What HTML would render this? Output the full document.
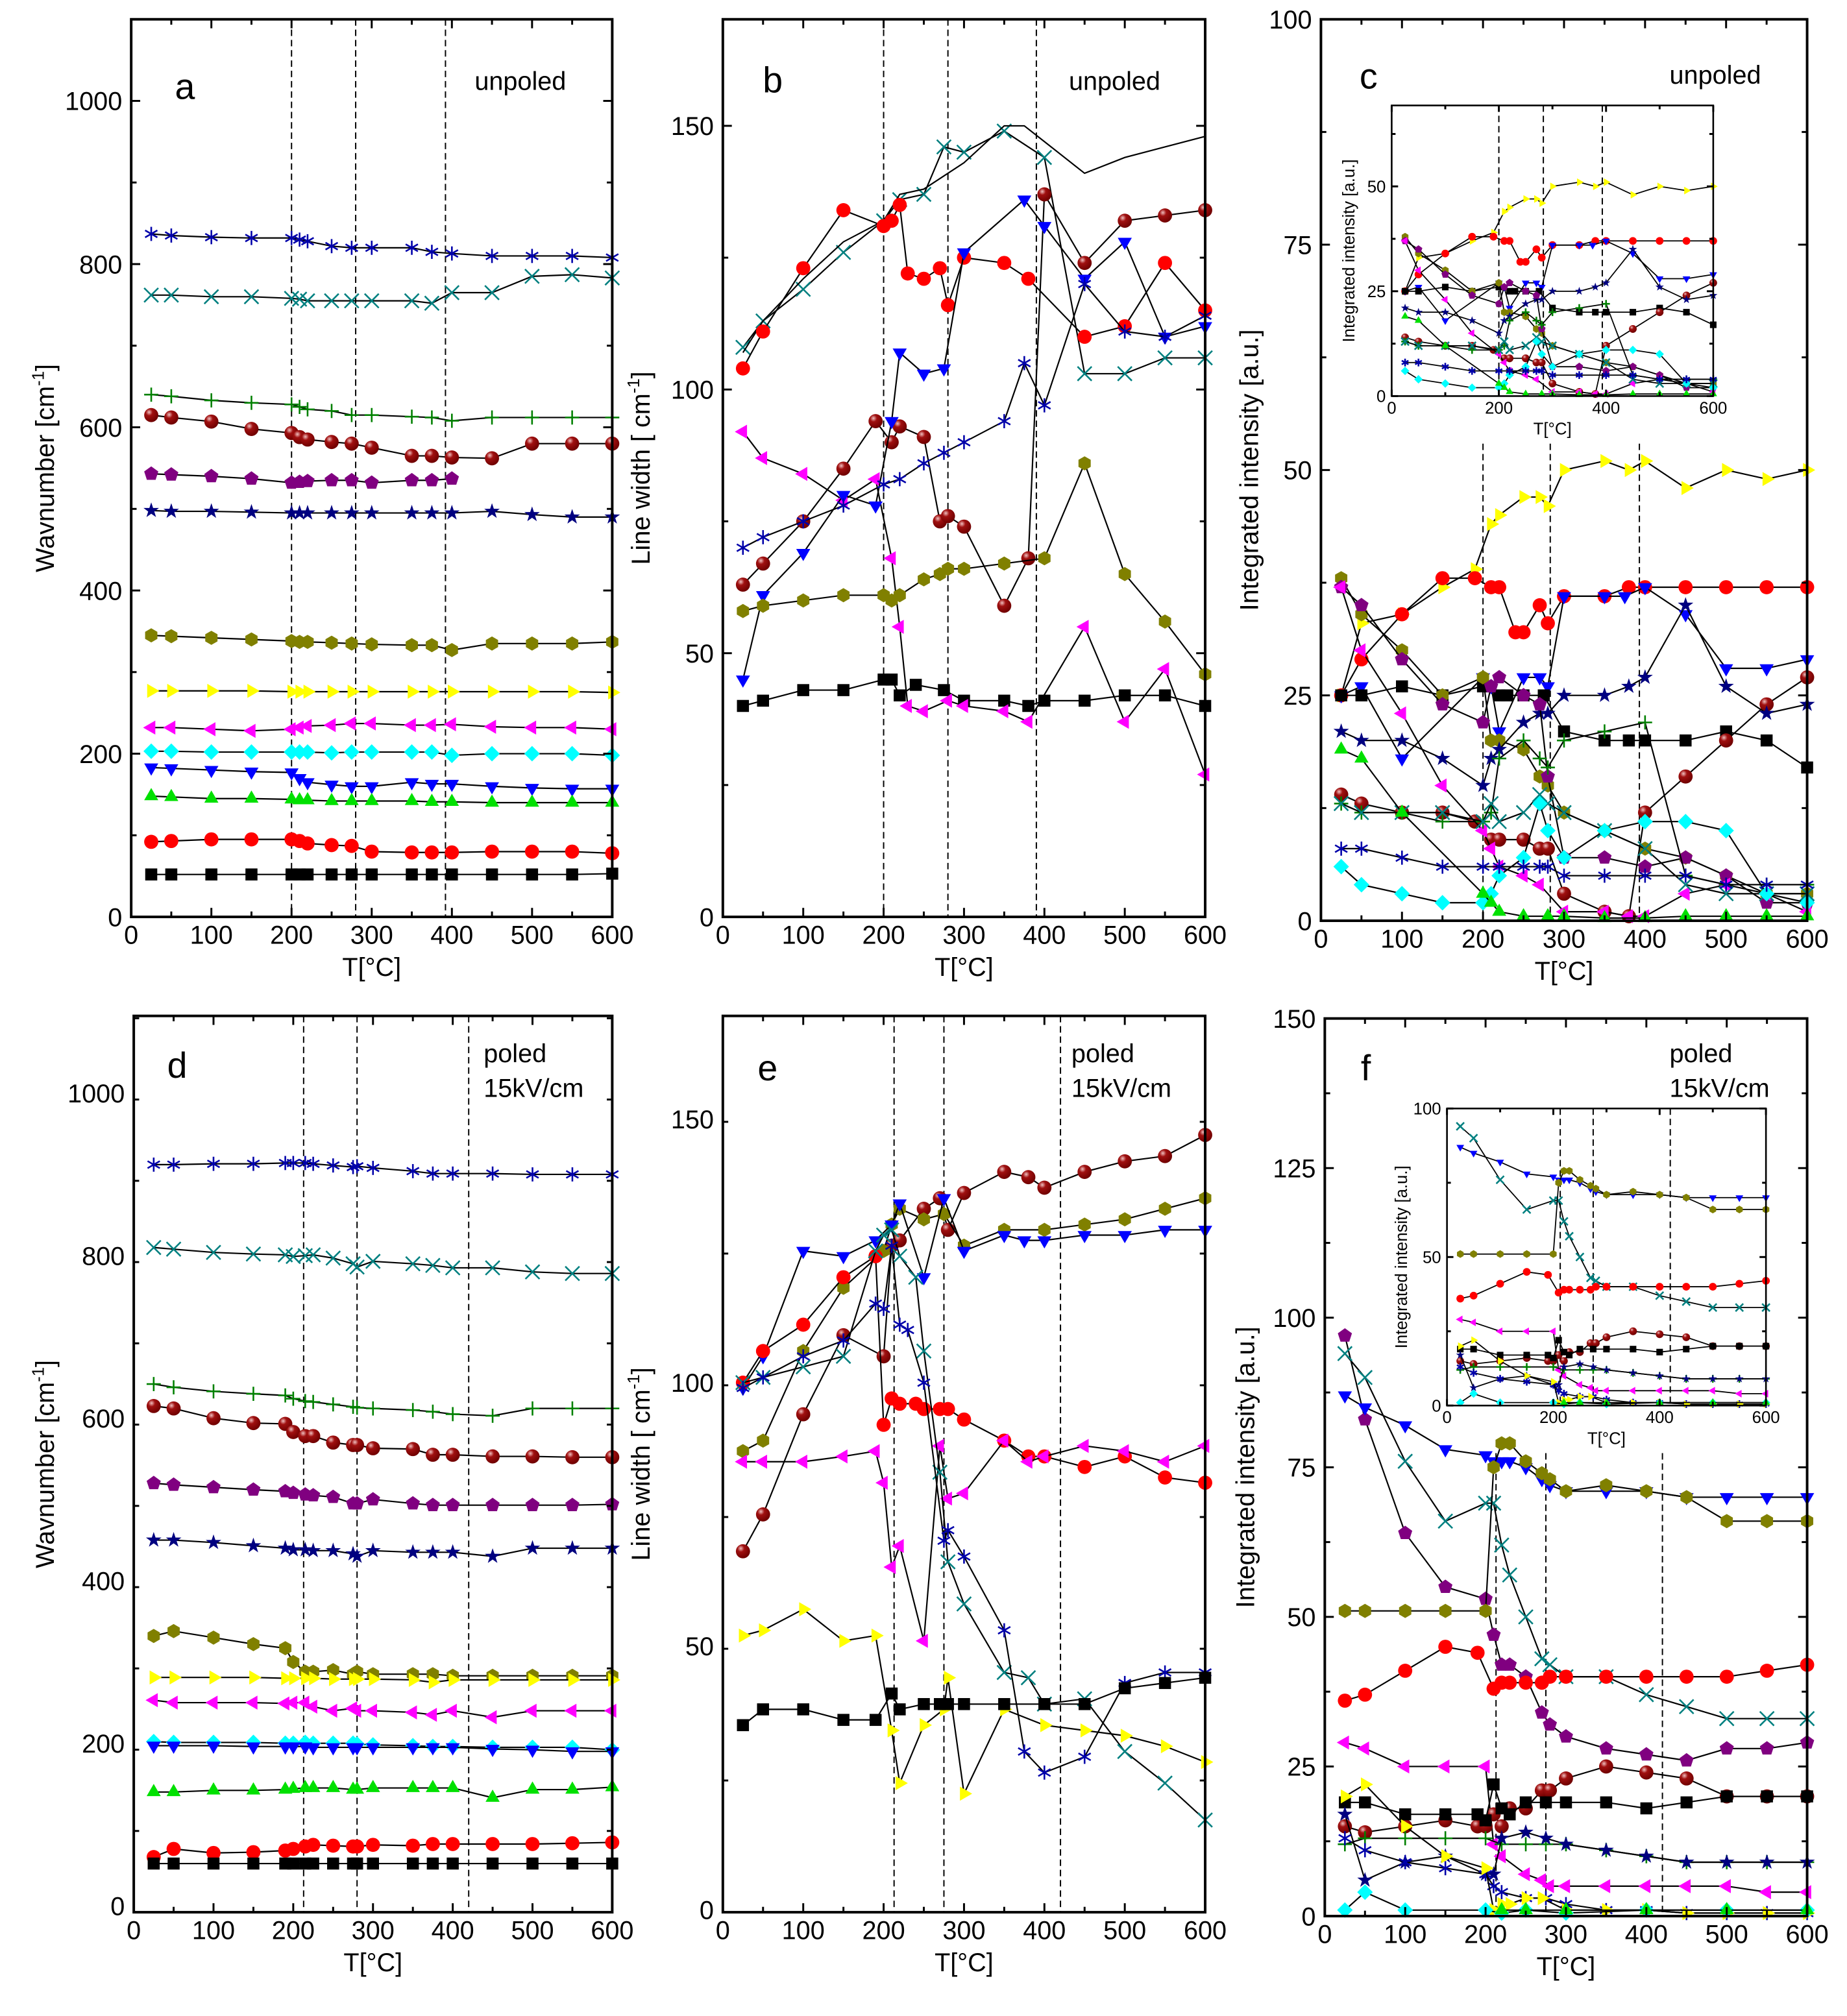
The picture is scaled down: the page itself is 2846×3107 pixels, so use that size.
<!DOCTYPE html>
<html><head><meta charset="utf-8">
<style>
html,body{margin:0;padding:0;background:#fff;}
svg{display:block;}
text{font-family:"Liberation Sans",Arial,sans-serif;fill:#000;}
</style></head>
<body>
<svg id="fig" xmlns="http://www.w3.org/2000/svg" width="2846" height="3107" viewBox="0 0 1436 1567.7" preserveAspectRatio="none">
<defs>
<radialGradient id="sph" cx="0.35" cy="0.3" r="0.7"><stop offset="0" stop-color="#f0c0c0"/><stop offset="0.35" stop-color="#a01010"/><stop offset="1" stop-color="#700000"/></radialGradient>
</defs>
</svg>
<script>
// ---------- DATA ----------
const aT=[25,50,100,150,200,210,220,250,275,300,350,375,400,450,500,550,600];
const aAst=[837,835,833,832,832,830,828,822,820,820,820,815,813,810,810,810,808];
const aX=[762,762,760,760,758,757,755,755,755,755,755,752,765,765,785,787,783];
const aPlus=[640,638,633,630,628,625,622,620,615,615,613,612,608,612,612,612,612];
const aSph=[615,612,607,598,593,588,585,582,580,575,565,565,563,562,580,580,580];
const aPent=[543,542,540,537,532,533,534,535,535,532,535,535,537,null,null,null,null];
const aStar=[498,497,497,496,495,495,495,495,495,495,495,495,495,497,493,490,490];
const aHex=[345,344,342,340,338,337,337,336,335,334,333,333,327,335,335,335,337];
const aRight=[277,277,277,277,276,276,276,276,276,276,276,276,276,276,276,276,275];
const aLeft=[232,232,230,228,230,232,234,235,237,237,235,235,236,233,232,232,230];
const aDia=[203,203,202,202,202,202,202,201,202,202,202,202,198,200,200,200,198];
const aDown=[183,182,180,178,177,170,165,162,160,160,165,163,163,160,158,157,157];
const aUp=[148,147,145,145,144,143,143,142,142,142,142,141,141,140,140,140,140];
const aCirc=[92,93,95,95,95,93,90,88,87,80,79,79,79,80,80,80,78];
const aSq=[52,52,52,52,52,52,52,52,52,52,52,52,52,52,52,52,53];

const bSqT=[25,50,100,150,200,210,220,240,275,300,350,380,400,450,500,550,600];
const bSq=[40,41,43,43,45,45,42,44,43,41,41,40,41,41,42,42,40];
const bLeftT=[25,50,100,150,190,210,220,230,250,280,300,350,380,450,500,550,600];
const bLeft=[92,87,84,79,83,68,55,40,39,41,40,39,37,55,37,47,27];
const bXT=[25,50,100,150,200,220,250,275,300,350,400,450,500,550,600];
const bX=[108,113,119,126,132,136,137,146,145,149,144,103,103,106,106];
const bLineT=[25,50,100,150,200,220,250,300,350,375,400,450,500,600];
const bLine=[107,113,121,128,132,137,138,143,150,150,147,141,144,148];
const bCircT=[25,50,100,150,200,210,220,230,250,270,280,300,350,380,450,500,550,600];
const bCirc=[104,111,123,134,131,132,135,122,121,123,116,125,124,121,110,112,124,115];
const bSphT=[25,50,100,150,190,210,220,250,270,280,300,350,380,400,450,500,550,600];
const bSph=[63,67,75,85,94,90,93,91,75,76,74,59,68,137,124,132,133,134];
const bDownT=[25,50,100,150,190,210,220,250,275,300,375,400,450,500,550,600];
const bDown=[45,61,69,80,78,94,107,103,104,126,136,131,121,128,110,112];
const bAstT=[25,50,100,150,200,220,250,275,300,350,375,400,450,500,550,600];
const bAst=[70,72,75,78,82,83,86,88,90,94,105,97,120,111,110,114];
const bHexT=[25,50,100,150,200,210,220,250,270,280,300,350,400,450,500,550,600];
const bHex=[58,59,60,61,61,60,61,64,65,66,66,67,68,86,65,56,46];

const cRightT=[25,50,100,150,190,210,220,250,270,280,300,350,380,400,450,500,550,600];
const cRight=[25,33,34,37,39,44,45,47,47,46,50,51,50,51,48,50,49,50];
const cCircT=[25,50,100,150,190,210,220,240,250,270,280,300,350,380,400,450,500,550,600];
const cCirc=[25,29,34,38,38,37,37,32,32,35,33,36,36,37,37,37,37,37,37];
const cDownT=[25,50,100,200,210,220,250,270,280,300,350,375,400,450,500,550,600];
const cDown=[25,26,18,27,26,21,27,27,26,36,36,36,37,34,28,28,29];
const cSqT=[25,50,100,150,200,220,230,250,275,300,350,380,400,450,500,550,600];
const cSq=[25,25,26,25,26,25,25,25,25,21,20,20,20,20,21,20,17];
const cHexT=[25,50,100,150,200,210,220,250,270,280,300,350,400,450,500,550,600];
const cHex=[38,34,30,25,27,20,20,19,16,15,12,10,8,7,5,3,3];
const cSphT=[25,50,100,150,190,210,220,250,270,280,300,350,380,400,450,500,550,600];
const cSph=[14,13,12,12,11,9,9,9,8,8,3,1,0.5,12,16,20,24,27];
const cStarT=[25,50,100,150,200,210,220,250,270,280,300,350,380,400,450,500,550,600];
const cStar=[21,20,20,18,15,18,19,22,23,23,25,25,26,27,35,26,23,24];
const cPentT=[25,50,100,150,200,210,220,250,270,280,300,350,400,450,500,550,600];
const cPent=[37,35,29,24,22,26,27,25,24,16,7,7,6,7,5,2,2];
const cLeftT=[25,50,100,150,200,210,220,250,270,300,350,380,400,450,500,550,600];
const cLeft=[37,30,23,15,10,8,6,5,4,1,1,0.5,0.5,3,4,3,1];
const cPlusT=[25,50,100,150,200,210,220,250,270,280,300,350,400,450,500,550,600];
const cPlus=[13,12,12,11,11,12,18,20,18,17,20,21,22,5,4,4,4];
const cXT=[25,50,100,150,200,210,220,250,270,280,300,350,400,450,500,550,600];
const cX=[13,12,12,12,11,13,11,12,14,13,12,10,8,4,3,3,3];
const cDiaT=[25,50,100,150,200,210,220,250,270,280,300,350,400,450,500,550,600];
const cDia=[6,4,3,2,2,3,5,7,13,10,7,10,11,11,10,3,2];
const cUpT=[25,50,100,200,210,220,250,280,300,350,400,450,500,550,600];
const cUp=[19,18,12,3,2,1,0.5,0.5,0.5,0.3,0.3,0.5,0.5,0.5,0.5];
const cAstT=[25,50,100,150,200,220,250,270,280,300,350,400,450,500,550,600];
const cAst=[8,8,7,6,6,6,6,6,6,5,5,5,5,4,4,4];

const dT=[25,50,100,150,190,200,215,225,250,275,280,300,350,375,400,450,500,550,600];
const dAst=[912,912,913,913,914,914,914,913,911,909,910,908,904,901,901,901,900,900,900];
const dX=[810,808,804,802,801,799,800,801,797,790,786,793,790,788,785,785,780,778,778];
const dPlus=[642,638,633,630,628,624,621,620,617,614,613,612,610,608,605,603,612,612,612];
const dSph=[615,612,600,594,593,583,578,578,570,567,567,563,562,555,555,553,553,552,552];
const dPent=[520,518,515,512,510,508,506,505,503,495,495,500,495,493,493,493,493,493,494];
const dStar=[450,450,447,443,440,438,438,437,437,433,430,437,435,435,435,430,440,440,440];
const dHex=[332,338,330,322,317,300,288,288,290,285,288,285,285,285,283,283,283,283,283];
const dRight=[281,281,281,281,280,280,280,280,279,279,279,279,278,275,278,278,278,278,278];
const dLeft=[253,250,250,250,249,250,250,245,240,243,240,240,238,235,240,232,240,240,240];
const dDia=[202,201,201,201,200,200,201,200,200,200,199,198,197,196,196,195,195,195,192];
const dDown=[197,197,197,196,196,196,196,195,195,195,195,195,195,195,195,193,192,190,190];
const dUp=[140,140,142,142,143,144,145,145,145,143,143,145,145,145,145,133,143,143,146];
const dCirc=[60,70,65,66,68,70,73,75,74,73,73,75,74,76,76,76,76,77,78];
const dSq=[52,52,52,52,52,52,52,52,52,52,52,52,52,52,52,52,52,52,52];

const eSphT=[25,50,100,150,200,210,220,250,270,280,300,350,380,400,450,500,550,600];
const eSph=[68,75,94,109,105,126,127,133,135,129,136,140,139,137,140,142,143,147];
const eHexT=[25,50,100,150,200,210,220,250,275,300,350,400,450,500,550,600];
const eHex=[87,89,106,118,125,130,133,131,132,126,129,129,130,131,133,135];
const eDownT=[25,50,100,150,190,210,220,250,275,300,350,375,400,450,500,550,600];
const eDown=[99,105,125,124,127,130,134,120,135,125,128,127,127,128,128,129,129];
const eCircT=[25,50,100,150,190,200,210,220,240,250,270,280,300,350,380,400,450,500,550,600];
const eCirc=[100,106,111,120,124,92,97,96,96,95,95,95,93,89,86,86,84,86,82,81];
const eLeftT=[25,50,100,150,190,200,210,220,250,270,280,300,350,380,400,450,500,550,600];
const eLeft=[85,85,85,86,87,81,65,69,51,88,78,79,89,85,86,88,87,85,88];
const eXT=[25,50,100,150,190,200,210,220,240,250,270,280,300,350,380,400,450,500,550,600];
const eX=[100,101,103,105,125,128,129,124,120,106,83,66,58,45,44,39,40,30,24,17];
const eAstT=[25,50,100,150,190,200,210,220,230,250,275,280,300,350,375,400,450,500,550,600];
const eAst=[99,101,105,108,115,114,126,111,110,100,70,72,67,53,30,26,29,43,45,45];
const eRightT=[25,50,100,150,190,210,220,250,275,280,300,350,400,450,500,550,600];
const eRight=[52,53,57,51,52,34,24,35,38,44,22,38,35,34,33,31,28];
const eSqT=[25,50,100,150,190,210,220,250,270,280,300,350,400,450,500,550,600];
const eSq=[35,38,38,36,36,41,38,39,39,39,39,39,39,39,42,43,44];

const fPentT=[25,50,100,150,200,210,220,230,250,270,280,300,350,400,450,500,550,600];
const fPent=[97,83,64,55,53,47,42,42,40,34,32,30,28,27,26,28,28,29];
const fXT=[25,50,100,150,200,210,220,230,250,270,280,300,350,400,450,500,550,600];
const fX=[94,90,76,66,69,69,62,57,50,43,42,40,40,37,35,33,33,33];
const fDownT=[25,50,100,150,200,210,220,230,250,270,280,300,350,400,450,500,550,600];
const fDown=[87,85,82,78,77,76,76,76,75,73,72,71,71,71,70,70,70,70];
const fHexT=[25,50,100,150,200,210,220,230,250,270,280,300,350,400,450,500,550,600];
const fHex=[51,51,51,51,51,75,79,79,76,74,73,71,72,71,70,66,66,66];
const fCircT=[25,50,100,150,190,210,220,230,250,270,280,300,350,400,450,500,550,600];
const fCirc=[36,37,41,45,44,38,39,39,39,39,40,40,40,40,40,40,41,42];
const fLeftT=[25,50,100,150,200,210,220,250,270,280,300,350,400,450,500,550,600];
const fLeft=[29,28,25,25,25,12,10,7,6,5,5,5,5,5,5,4,4];
const fSphT=[25,50,100,150,190,200,210,220,230,250,270,280,300,350,400,450,500,550,600];
const fSph=[15,14,15,16,15,15,17,15,18,18,21,21,23,25,24,23,20,20,20];
const fSqT=[25,50,100,150,190,200,210,220,230,250,275,300,350,400,450,500,550,600];
const fSq=[19,19,17,17,17,16,22,18,17,19,19,19,19,18,19,20,20,20];
const fPlusT=[25,50,100,150,200,220,250,275,300,350,400,450,500,550,600];
const fPlus=[12,13,13,13,13,12,12,12,12,11,10,9,9,9,9];
const fStarT=[25,50,100,150,200,210,220,250,275,300,350,400,450,500,550,600];
const fStar=[17,6,9,10,7,7,13,14,13,12,11,10,9,9,9,9];
const fAstT=[25,50,100,150,200,210,220,250,275,300,350,400,450,500,550,600];
const fAst=[13,11,9,8,7,5,4,3,3,2,1,1,0.5,0.5,0.5,0.5];
const fRightT=[25,50,100,150,200,210,220,230,250,270,300,350,400,450,500,550,600];
const fRight=[20,22,15,10,8,1,2,2,3,3,1,1,1,0.5,0.5,0.5,0.5];
const fDiaT=[25,50,100,200,220,250,300,400,500,600];
const fDia=[1,4,1,1,0.5,1,0.5,1,1,1];
const fUpT=[220,250,300,400,500,600];
const fUp=[1,1,1,1,1,1];

const xTicks=[0,100,200,300,400,500,600];
const xTicksInset=[0,200,400,600];
const wavTicks=[0,200,400,600,800,1000];
const lwTicks=[0,50,100,150];
const cTicks=[0,25,50,75,100];
const cInsetTicks=[0,25,50];
const fTicks=[0,25,50,75,100,125,150];
const fInsetTicks=[0,50,100];

// ---------- DRAWING ----------
const NS='http://www.w3.org/2000/svg';
const svg=document.getElementById('fig');
function el(tag,attrs,parent){const e=document.createElementNS(NS,tag);for(const k in attrs)e.setAttribute(k,attrs[k]);(parent||svg).appendChild(e);return e;}
const COL={sq:'#000',circ:'#ff0000',up:'#00e000',down:'#0000ff',dia:'#00ffff',left:'#ff00ff',right:'#ffff00',hex:'#808000',star:'#000080',pent:'#800080',sph:'url(#sph)',x:'#008080',plus:'#008000',ast:'#0000aa'};
function poly(n,r,rot,cx,cy){let p=[];for(let i=0;i<n;i++){const a=rot+i*2*Math.PI/n;p.push((cx+r*Math.cos(a)).toFixed(2)+','+(cy+r*Math.sin(a)).toFixed(2));}return p.join(' ');}
function marker(g,t,cx,cy,r){
  const c=COL[t];
  if(t==='sq')return el('rect',{x:cx-r*0.85,y:cy-r*0.85,width:r*1.7,height:r*1.7,fill:c},g);
  if(t==='circ')return el('circle',{cx,cy,r,fill:c},g);
  if(t==='sph')return el('circle',{cx,cy,r,fill:c},g);
  if(t==='up')return el('polygon',{points:poly(3,r*1.15,-Math.PI/2,cx,cy),fill:c},g);
  if(t==='down')return el('polygon',{points:poly(3,r*1.15,Math.PI/2,cx,cy),fill:c},g);
  if(t==='left')return el('polygon',{points:poly(3,r*1.15,Math.PI,cx,cy),fill:c},g);
  if(t==='right')return el('polygon',{points:poly(3,r*1.15,0,cx,cy),fill:c},g);
  if(t==='dia')return el('polygon',{points:poly(4,r*1.1,0,cx,cy),fill:c},g);
  if(t==='hex')return el('polygon',{points:poly(6,r,Math.PI/2,cx,cy),fill:c},g);
  if(t==='pent')return el('polygon',{points:poly(5,r*1.05,-Math.PI/2,cx,cy),fill:c},g);
  if(t==='star'){let p=[];for(let i=0;i<10;i++){const a=-Math.PI/2+i*Math.PI/5,rr=i%2?r*0.45:r*1.15;p.push((cx+rr*Math.cos(a)).toFixed(2)+','+(cy+rr*Math.sin(a)).toFixed(2));}return el('polygon',{points:p.join(' '),fill:c},g);}
  const gg=el('g',{stroke:c,'stroke-width':1.3},g);
  if(t==='x'){el('line',{x1:cx-r,y1:cy-r,x2:cx+r,y2:cy+r},gg);el('line',{x1:cx-r,y1:cy+r,x2:cx+r,y2:cy-r},gg);}
  if(t==='plus'){el('line',{x1:cx-r,y1:cy,x2:cx+r,y2:cy},gg);el('line',{x1:cx,y1:cy-r,x2:cx,y2:cy+r},gg);}
  if(t==='ast'){for(let i=0;i<3;i++){const a=Math.PI/2+i*Math.PI/3;el('line',{x1:cx-r*Math.cos(a),y1:cy-r*Math.sin(a),x2:cx+r*Math.cos(a),y2:cy+r*Math.sin(a)},gg);}}
  return gg;
}
function panel(p){
  const g=el('g',{});
  
  
  const X=v=>p.x0+(v-0)/600*(p.x1-p.x0);
  const Y=v=>p.y1-(v-p.ymin)/(p.ymax-p.ymin)*(p.y1-p.y0);
  const fs=p.fs||20, tl=p.tl||7;
  (p.dash||[]).forEach(d=>{const l=el('line',{x1:X(d),x2:X(d),y1:p.dashTop||p.y0,y2:p.y1,stroke:'#000','stroke-width':1,'stroke-dasharray':'5,3'},g);
    
    });
  p.series.forEach(s=>{
    const sg=el('g',{},g);
    
    
    const pts=[];s.T.forEach((t,i)=>{if(s.Y[i]!=null)pts.push([X(t),Y(s.Y[i])]);});
    el('polyline',{points:pts.map(q=>q[0].toFixed(2)+','+q[1].toFixed(2)).join(' '),fill:'none',stroke:'#000','stroke-width':p.lw||1.1},sg);
    if(s.m!=='none')pts.forEach(q=>{const m=marker(sg,s.m,q[0],q[1],p.mr||5.5);
      
      });
  });
  el('rect',{x:p.x0,y:p.y0,width:p.x1-p.x0,height:p.y1-p.y0,fill:'none',stroke:'#000','stroke-width':p.fw||2},g);
  for(let v=0;v<=600;v+=(p.xminor||50)){const maj=p.xt.includes(v);const L=maj?tl:tl*0.6;
    el('line',{x1:X(v),x2:X(v),y1:p.y1,y2:p.y1-L,stroke:'#000','stroke-width':1.5},g);
    el('line',{x1:X(v),x2:X(v),y1:p.y0,y2:p.y0+L,stroke:'#000','stroke-width':1.5},g);}
  p.xt.forEach(v=>{const t=el('text',{x:X(v),y:p.y1+fs*1.05,'font-size':fs,'text-anchor':'middle'},g);t.textContent=v;
    
    });
  const step=p.yt[1]-p.yt[0];
  for(let v=p.ymin;v<=p.ymax+1e-9;v+=step/2){const maj=p.yt.includes(v);const L=maj?tl:tl*0.6;
    el('line',{x1:p.x0,x2:p.x0+L,y1:Y(v),y2:Y(v),stroke:'#000','stroke-width':1.5},g);
    el('line',{x1:p.x1,x2:p.x1-L,y1:Y(v),y2:Y(v),stroke:'#000','stroke-width':1.5},g);}
  p.yt.forEach(v=>{const t=el('text',{x:p.x0-fs*0.35,y:Y(v)+fs*0.36,'font-size':fs,'text-anchor':'end'},g);t.textContent=v;
    
    });
  const xt=el('text',{x:(p.x0+p.x1)/2,y:p.y1+fs*2.3,'font-size':fs,'text-anchor':'middle'},g);xt.textContent='T[°C]';
  
  
  const yx=p.ytx, yy=(p.y0+p.y1)/2;
  const yt=el('text',{x:yx,y:yy,'font-size':fs,'text-anchor':'middle',transform:`rotate(-90 ${yx} ${yy})`},g);
  yt.innerHTML=p.ytitle;
  
  
  if(p.letter){const t=el('text',{x:p.letter[1],y:p.letter[2],'font-size':28},g);t.textContent=p.letter[0];
    
    }
  if(p.label){p.label[2].forEach((s,i)=>{const t=el('text',{x:p.label[0],y:p.label[1]+i*27,'font-size':20},g);t.textContent=s;
    
    });}
  return g;
}
const S=(T,Y,m)=>({T,Y,m});
const cSeries=[S(cRightT,cRight,'right'),S(cCircT,cCirc,'circ'),S(cDownT,cDown,'down'),S(cSqT,cSq,'sq'),S(cHexT,cHex,'hex'),S(cSphT,cSph,'sph'),S(cStarT,cStar,'star'),S(cPentT,cPent,'pent'),S(cLeftT,cLeft,'left'),S(cPlusT,cPlus,'plus'),S(cXT,cX,'x'),S(cDiaT,cDia,'dia'),S(cUpT,cUp,'up'),S(cAstT,cAst,'ast')];
const fMain=[S(fPentT,fPent,'pent'),S(fXT,fX,'x'),S(fDownT,fDown,'down'),S(fHexT,fHex,'hex'),S(fCircT,fCirc,'circ'),S(fLeftT,fLeft,'left'),S(fSphT,fSph,'sph'),S(fSqT,fSq,'sq'),S(fPlusT,fPlus,'plus'),S(fStarT,fStar,'star'),S(fAstT,fAst,'ast'),S(fRightT,fRight,'right'),S(fDiaT,fDia,'dia'),S(fUpT,fUp,'up')];
const wavT='Wavnumber [cm<tspan dy="-8" font-size="13">-1</tspan><tspan dy="8">]</tspan>';
const lwT='Line width [ cm<tspan dy="-8" font-size="13">-1</tspan><tspan dy="8">]</tspan>';
panel({name:'panel-a',x0:102,x1:476,y0:15,y1:713,ymin:0,ymax:1100,yt:wavTicks,xt:xTicks,ytx:42,dash:[200,280,392],letter:['a',136,77],label:[369,70,['unpoled']],ytitle:wavT,
 series:[S(aT,aAst,'ast'),S(aT,aX,'x'),S(aT,aPlus,'plus'),S(aT,aSph,'sph'),S(aT,aPent,'pent'),S(aT,aStar,'star'),S(aT,aHex,'hex'),S(aT,aRight,'right'),S(aT,aLeft,'left'),S(aT,aDia,'dia'),S(aT,aDown,'down'),S(aT,aUp,'up'),S(aT,aCirc,'circ'),S(aT,aSq,'sq')]});
panel({name:'panel-b',x0:562,x1:937,y0:15,y1:713,ymin:0,ymax:170.2,yt:lwTicks,xt:xTicks,ytx:505,dash:[200,280,390],letter:['b',593,72],label:[831,70,['unpoled']],ytitle:lwT,
 series:[S(bSqT,bSq,'sq'),S(bLeftT,bLeft,'left'),S(bXT,bX,'x'),S(bLineT,bLine,'none'),S(bCircT,bCirc,'circ'),S(bSphT,bSph,'sph'),S(bDownT,bDown,'down'),S(bAstT,bAst,'ast'),S(bHexT,bHex,'hex')]});
panel({name:'panel-c',x0:1027,x1:1405,y0:15,y1:716,ymin:0,ymax:100,yt:cTicks,xt:xTicks,ytx:978,dash:[200,283,393],dashTop:345,letter:['c',1057,69],label:[1298,65,['unpoled']],ytitle:'Integrated intensity [a.u.]',series:cSeries});
el('rect',{x:1082,y:82,width:250,height:226,fill:'#fff'});
panel({name:'inset-c',x0:1082,x1:1332,y0:82,y1:308,ymin:0,ymax:69.3,yt:cInsetTicks,xt:xTicksInset,xminor:100,ytx:1053,fs:13,tl:5,fw:1.3,mr:3,lw:0.9,dash:[200,283,393],ytitle:'Integrated intensity [a.u.]',series:cSeries});
panel({name:'panel-d',x0:104,x1:476,y0:790,y1:1487,ymin:-7.9,ymax:1095,yt:wavTicks,xt:xTicks,ytx:42,dash:[213,280,420],letter:['d',130,838],label:[376,826,['poled','15kV/cm']],ytitle:wavT,
 series:[S(dT,dAst,'ast'),S(dT,dX,'x'),S(dT,dPlus,'plus'),S(dT,dSph,'sph'),S(dT,dPent,'pent'),S(dT,dStar,'star'),S(dT,dHex,'hex'),S(dT,dRight,'right'),S(dT,dLeft,'left'),S(dT,dDia,'dia'),S(dT,dDown,'down'),S(dT,dUp,'up'),S(dT,dCirc,'circ'),S(dT,dSq,'sq')]});
panel({name:'panel-e',x0:562,x1:937,y0:790,y1:1487,ymin:-0.5,ymax:169.6,yt:lwTicks,xt:xTicks,ytx:505,dash:[213,275,420],letter:['e',589,840],label:[833,826,['poled','15kV/cm']],ytitle:lwT,
 series:[S(eSphT,eSph,'sph'),S(eHexT,eHex,'hex'),S(eDownT,eDown,'down'),S(eCircT,eCirc,'circ'),S(eLeftT,eLeft,'left'),S(eXT,eX,'x'),S(eAstT,eAst,'ast'),S(eRightT,eRight,'right'),S(eSqT,eSq,'sq')]});
panel({name:'panel-f',x0:1030,x1:1405,y0:792,y1:1490,ymin:0,ymax:150,yt:fTicks,xt:xTicks,ytx:975,dash:[213,275,420],dashTop:1130,letter:['f',1058,840],label:[1298,826,['poled','15kV/cm']],ytitle:'Integrated intensity [a.u.]',series:fMain});
el('rect',{x:1125,y:862,width:248,height:231,fill:'#fff'});
panel({name:'inset-f',x0:1125,x1:1373,y0:862,y1:1093,ymin:0,ymax:100,yt:fInsetTicks,xt:xTicksInset,xminor:100,ytx:1094,fs:13,tl:5,fw:1.3,mr:3,lw:0.9,dash:[213,275,420],ytitle:'Integrated intensity [a.u.]',series:fMain.slice(1)});
</script>
</body></html>
